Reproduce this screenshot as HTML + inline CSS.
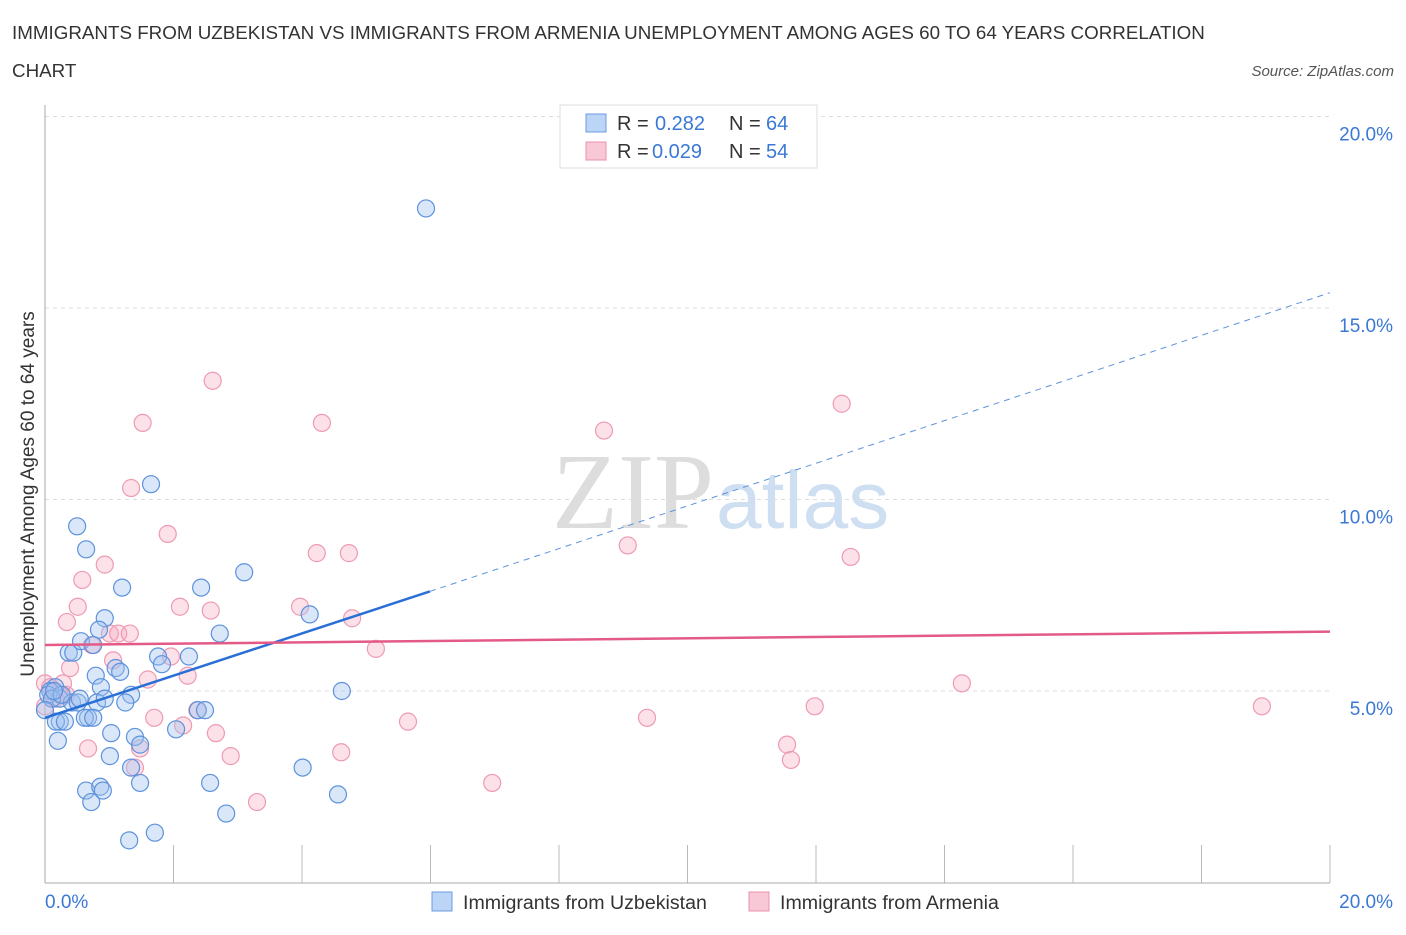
<!DOCTYPE html>
<html><head><meta charset="utf-8"><style>
body{margin:0;background:#fff;font-family:"Liberation Sans",sans-serif;}
</style></head><body>
<svg width="1406" height="930" xmlns="http://www.w3.org/2000/svg" font-family="Liberation Sans, sans-serif">
<text x="12" y="39" font-size="18.8" fill="#333">IMMIGRANTS FROM UZBEKISTAN VS IMMIGRANTS FROM ARMENIA UNEMPLOYMENT AMONG AGES 60 TO 64 YEARS CORRELATION</text>
<text x="12" y="77" font-size="18.8" fill="#333">CHART</text>
<text x="1394" y="76" font-size="15" fill="#555" font-style="italic" text-anchor="end">Source: ZipAtlas.com</text>
<g id="grid"></g>
<text x="714" y="528" font-size="108" font-family="Liberation Serif, serif" fill="#ddd" text-anchor="end">ZIP</text>
<text x="716" y="528" font-size="82" fill="#cfdff2">atlas</text>
<line x1="45" y1="105" x2="45" y2="883" stroke="#aaa"/>
<line x1="45" y1="883" x2="1330" y2="883" stroke="#aaa"/>
<g id="pts"></g>
<g id="lines"></g>
<text x="34" y="494" font-size="19" fill="#333" text-anchor="middle" transform="rotate(-90 34 494)">Unemployment Among Ages 60 to 64 years</text>
<text x="45" y="908" font-size="19" fill="#3b78d4">0.0%</text>
<text x="1393" y="908" font-size="19" fill="#3b78d4" text-anchor="end">20.0%</text>
<g>
<rect x="560" y="105" width="257" height="63" fill="#fff" stroke="#ddd"/>
<rect x="586" y="114" width="20" height="18" fill="#bcd4f5" stroke="#6a9be0"/>
<rect x="586" y="142" width="20" height="18" fill="#f9c8d6" stroke="#ec8fab"/>
<text x="617" y="130" font-size="20" fill="#333">R =</text>
<text x="655" y="130" font-size="20" fill="#3b78d4">0.282</text>
<text x="729" y="130" font-size="20" fill="#333">N =</text>
<text x="766" y="130" font-size="20" fill="#3b78d4">64</text>
<text x="617" y="158" font-size="20" fill="#333">R =</text>
<text x="652" y="158" font-size="20" fill="#3b78d4">0.029</text>
<text x="729" y="158" font-size="20" fill="#333">N =</text>
<text x="766" y="158" font-size="20" fill="#3b78d4">54</text>
</g>
<g>
<rect x="432" y="892" width="20" height="19" fill="#bcd4f5" stroke="#6a9be0"/>
<text x="463" y="909" font-size="19.6" fill="#333">Immigrants from Uzbekistan</text>
<rect x="749" y="892" width="20" height="19" fill="#f9c8d6" stroke="#ec8fab"/>
<text x="780" y="909" font-size="19.6" fill="#333">Immigrants from Armenia</text>
</g>
</svg>
<script>
const yTicks=[5,10,15,20];
const blueX=[5.93,1.65,0.5,0.64,3.1,1.2,2.43,0.93,4.12,2.72,0.84,0.37,0.44,1.76,2.24,1.82,0.56,0.75,1.1,1.17,0.79,0.87,1.34,0.16,0.08,0.23,0.42,0.51,0.81,1.25,2.38,2.49,4.62,0.67,0.23,0.17,0.31,0.62,1.03,1.4,1.48,0.2,1.01,2.04,0.75,4.01,2.57,1.48,0.64,0.86,0.9,0.72,1.71,1.31,2.82,4.56,1.34,0.05,0.11,0.26,0.54,0.93,0.0,0.14];
const blueY=[17.6,10.4,9.3,8.7,8.1,7.7,7.7,6.9,7.0,6.5,6.6,6.0,6.0,5.9,5.9,5.7,6.3,6.2,5.6,5.5,5.4,5.1,4.9,5.1,5.0,4.8,4.7,4.7,4.7,4.7,4.5,4.5,5.0,4.3,4.2,4.2,4.2,4.3,3.9,3.8,3.6,3.7,3.3,4.0,4.3,3.0,2.6,2.6,2.4,2.5,2.4,2.1,1.3,1.1,1.8,2.3,3.0,4.9,4.8,4.9,4.8,4.8,4.5,5.0];
const pinkX=[2.61,4.31,1.52,8.7,12.4,1.34,1.91,9.07,12.54,4.23,4.73,0.93,0.58,0.51,2.1,2.58,3.97,4.78,0.34,1.01,1.14,0.73,5.15,1.96,0.39,1.06,2.22,1.32,0.28,1.6,14.27,11.98,18.94,9.37,5.65,1.7,2.15,2.66,0.67,1.48,2.89,4.61,11.55,11.61,1.4,3.3,6.96,0.0,0.08,0.23,0.16,0.33,0.0,2.37];
const pinkY=[13.1,12.0,12.0,11.8,12.5,10.3,9.1,8.8,8.5,8.6,8.6,8.3,7.9,7.2,7.2,7.1,7.2,6.9,6.8,6.5,6.5,6.2,6.1,5.9,5.6,5.8,5.4,6.5,5.2,5.3,5.2,4.6,4.6,4.3,4.2,4.3,4.1,3.9,3.5,3.5,3.3,3.4,3.6,3.2,3.0,2.1,2.6,5.2,5.1,4.9,4.8,4.9,4.6,4.5];
const blueTrend=[0,4.3,5.99,7.6,20,15.4];
const pinkTrend=[0,6.2,20,6.55];
const X=v=>45+v/20*1285, Y=v=>882.5-v/5*191.5;
const NS="http://www.w3.org/2000/svg";
function mk(t,a){const e=document.createElementNS(NS,t);for(const k in a)e.setAttribute(k,a[k]);return e;}
const grid=document.getElementById('grid');
yTicks.forEach(t=>{
 const l=mk('line',{x1:45,x2:1330,y1:Y(t),y2:Y(t),stroke:'#ddd','stroke-dasharray':'4,4'});
 
 
 grid.appendChild(l);
 const tx=mk('text',{x:1393,y:Y(t)+24,'font-size':19,fill:'#3b78d4','text-anchor':'end'});
 tx.textContent=t.toFixed(1)+'%';
 
 
 grid.appendChild(tx);
});
for(let i=1;i<=10;i++){
 const l=mk('line',{x1:45+i*128.5,x2:45+i*128.5,y1:845,y2:883,stroke:'#bbb'});
 
 
 grid.appendChild(l);
}
const pts=document.getElementById('pts');
pinkX.forEach((x,i)=>{
 const c=mk('circle',{cx:X(x),cy:Y(pinkY[i]),r:8.5,fill:'rgba(246,170,192,0.35)',stroke:'#ee9ab3','stroke-width':1.2});
 
 
 pts.appendChild(c);
});
blueX.forEach((x,i)=>{
 const c=mk('circle',{cx:X(x),cy:Y(blueY[i]),r:8.5,fill:'rgba(160,196,240,0.4)',stroke:'#5d92dc','stroke-width':1.2});
 
 
 pts.appendChild(c);
});
const ln=document.getElementById('lines');
let a=mk('line',{x1:X(blueTrend[0]),y1:Y(blueTrend[1]),x2:X(blueTrend[2]),y2:Y(blueTrend[3]),stroke:'#2a6fd6','stroke-width':2.5});


ln.appendChild(a);
let b=mk('line',{x1:X(blueTrend[2]),y1:Y(blueTrend[3]),x2:X(blueTrend[4]),y2:Y(blueTrend[5]),stroke:'#5d92dc','stroke-width':1,'stroke-dasharray':'6,5'});


ln.appendChild(b);
let p=mk('line',{x1:X(pinkTrend[0]),y1:Y(pinkTrend[1]),x2:X(pinkTrend[2]),y2:Y(pinkTrend[3]),stroke:'#e45a86','stroke-width':2.5});


ln.appendChild(p);
</script>
</body></html>
